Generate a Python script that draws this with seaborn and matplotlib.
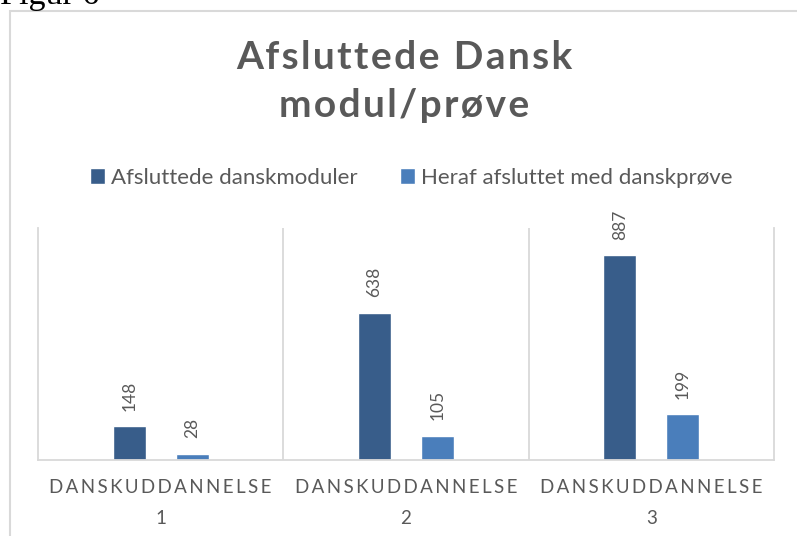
import pandas as pd
import matplotlib.pyplot as plt
import seaborn as sns
from matplotlib.patches import Rectangle

# -----------------------------
# DATA
# -----------------------------
uddannelser = ["DANSKUDDANNELSE 1", "DANSKUDDANNELSE 2", "DANSKUDDANNELSE 3"]
tick_numre = ["1", "2", "3"]
afsluttede_moduler = [148, 638, 887]
heraf_med_proeve = [28, 105, 199]
serier = ["Afsluttede danskmoduler", "Heraf afsluttet med danskprøve"]

df = pd.DataFrame({
    "uddannelse": uddannelser * 2,
    "antal": afsluttede_moduler + heraf_med_proeve,
    "serie": [serier[0]] * 3 + [serier[1]] * 3,
})

# -----------------------------
# STYLE
# -----------------------------
sns.set_style("white")
plt.rcParams["font.family"] = ["Lato", "DejaVu Sans"]

GRAY = "#595959"
LINE = "#D9D9D9"
DARK = "#385D8A"
LIGHT = "#4A7EBB"


def spaced(s, sep="\u2009"):
    return sep.join(s)


fig = plt.figure(figsize=(7.97, 5.36), dpi=100)
ax = fig.add_axes([38 / 797, 1 - 460 / 536, (774 - 38) / 797, (460 - 228) / 536])

sns.barplot(data=df, x="uddannelse", y="antal", hue="serie",
            palette=[DARK, LIGHT], saturation=1, width=0.514, gap=0.475,
            ax=ax)

ax.set_xlim(-0.5, 2.5)
ax.set_ylim(0, 1004)
ax.set_xlabel("")
ax.set_ylabel("")
ax.set_yticks([])

ax.set_xticks([0, 1, 2])
ax.set_xticklabels([spaced("DANSKUDDANNELSE") + "\n" + n for n in tick_numre],
                   color=GRAY, fontsize=13.5, linespacing=2.0)
ax.tick_params(axis="x", length=0, pad=14)

ax.set_xticks([0.5, 1.5], minor=True)
ax.tick_params(axis="x", which="minor", length=0)
ax.grid(False)
ax.grid(axis="x", which="minor", color=LINE, linewidth=1.3)

for side in ["left", "right", "bottom"]:
    ax.spines[side].set_color(LINE)
    ax.spines[side].set_linewidth(1.3)
ax.spines["top"].set_visible(False)

for c in ax.containers:
    ax.bar_label(c, rotation=90, padding=11, color=GRAY, fontsize=12.5)

# legend
h, l = ax.get_legend_handles_labels()
ax.legend(h, l, loc="center", bbox_to_anchor=(411 / 797, 1 - 178 / 536),
          bbox_transform=fig.transFigure, ncol=2, frameon=False,
          fontsize=16, handlelength=0.7, handleheight=0.7,
          handletextpad=0.25, columnspacing=1.9, labelcolor=GRAY)

# title
fig.text(404 / 797, 1 - 69 / 536, spaced("Afsluttede Dansk", "\u200a"),
         ha="center", va="baseline", fontsize=28, fontweight="bold", color=GRAY)
fig.text(404 / 797, 1 - 117 / 536, spaced("modul/prøve", "\u200a"),
         ha="center", va="baseline", fontsize=28, fontweight="bold", color=GRAY)

# chart frame and cropped caption
fig.patches.append(Rectangle((9.5 / 797, -0.05), 1.1, 1 - 11 / 536 + 0.05,
                             transform=fig.transFigure, fill=False,
                             edgecolor=LINE, linewidth=1.5))
fig.text(0.0, 1 - 4 / 536, "Figur 6", ha="left", va="baseline",
         fontsize=24.5, family="Liberation Serif", color="black")

plt.savefig("out.png", dpi=100)
